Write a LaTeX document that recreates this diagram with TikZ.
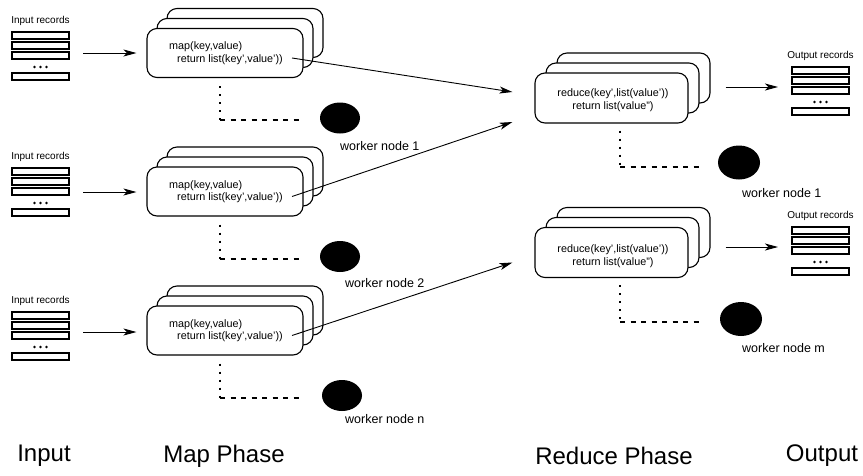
\documentclass[tikz,border=0pt]{standalone}
\usepackage{fontspec}
\setmainfont{Liberation Sans}
\usetikzlibrary{arrows.meta,shapes.geometric,calc}

\tikzset{
  box/.style={draw, rounded corners=10pt, fill=white, line width=1.1pt, inner sep=0pt},
  mapbox/.style={box, minimum width=156pt, minimum height=49pt},
  redbox/.style={box, minimum width=153pt, minimum height=50pt},
  rec/.style={draw, line width=1.1pt, minimum width=57pt, minimum height=7pt, inner sep=0pt},
  small/.style={font=\fontsize{10}{12}\selectfont, inner sep=0pt},
  code/.style={font=\fontsize{10.8}{12.5}\selectfont, inner sep=0pt},
  rcode/.style={font=\fontsize{10.8}{13.5}\selectfont, inner sep=0pt, align=center},
  worker/.style={ellipse, fill=black, inner sep=0pt},
  mworker/.style={worker, minimum width=40pt, minimum height=31pt},
  rworker/.style={worker, minimum width=42pt, minimum height=34pt},
  wlabel/.style={font=\fontsize{12.5}{15}\selectfont, inner sep=0pt, anchor=west},
  phase/.style={font=\fontsize{24}{28}\selectfont, inner sep=0pt},
  arr/.style={-{Stealth[length=13pt,width=7pt,inset=3.5pt]}, line width=0.9pt},
  dotv/.style={line width=2pt, dash pattern=on 2pt off 6pt},
  dashh/.style={line width=2pt, dash pattern=on 5pt off 5.5pt},
  % a stack of record slots with a caption above it
  records/.pic={
    \node[small] (-lab) at (0,-11) {#1};
    \node[rec] (-r1) at (0,3.5) {};
    \node[rec] (-r2) at (0,13.5) {};
    \node[rec] (-r3) at (0,23.5) {};
    \fill (-6,35) circle (1.3pt) (0,35) circle (1.3pt) (6,35) circle (1.3pt);
    \node[rec] (-r4) at (0,44.5) {};
  }
}

\begin{document}
\begin{tikzpicture}[x=1pt,y=-1pt]
\fill[white] (0,0) rectangle (863,475);
\useasboundingbox (0,0) rectangle (863,475);

% ---------------- input record stacks ----------------
\pic (in1) at (40.5,32) {records=Input records};
\pic (in2) at (40.5,168) {records=Input records};
\pic (in3) at (40.5,312) {records=Input records};

% ---------------- map tasks (three stacked boxes each) ----------------
\node[mapbox] (mb1) at (245,33) {};
\node[mapbox] (mm1) at (235,43) {};
\node[mapbox] (mf1) at (225,53) {};
\node[code, anchor=west, align=left] (mt1) at (169,53) {map(key,value)\\\hspace*{8pt}return list(key',value'))};

\node[mapbox] (mb2) at (245,171.5) {};
\node[mapbox] (mm2) at (235,181.5) {};
\node[mapbox] (mf2) at (225,191.5) {};
\node[code, anchor=west, align=left] (mt2) at (169,191.5) {map(key,value)\\\hspace*{8pt}return list(key',value'))};

\node[mapbox] (mb3) at (245,310.5) {};
\node[mapbox] (mm3) at (235,320.5) {};
\node[mapbox] (mf3) at (225,330.5) {};
\node[code, anchor=west, align=left] (mt3) at (169,330.5) {map(key,value)\\\hspace*{8pt}return list(key',value'))};

% ---------------- map workers ----------------
\node[mworker] (w1) at (340,118) {};
\node[wlabel] (wl1) at (340,146) {worker node 1};
\node[mworker] (w2) at (340,256.5) {};
\node[wlabel] (wl2) at (345,283) {worker node 2};
\node[mworker] (w3) at (342,395.5) {};
\node[wlabel] (wl3) at (345,419) {worker node n};

\coordinate (k1) at (220,120);
\coordinate (k2) at (220,258.5);
\coordinate (k3) at (220,397.5);
\foreach \g in {1,2,3}{
  \draw[dotv] ([shift={(-5pt,-8pt)}]mf\g.south) -- (k\g);
  \draw[dashh, shorten >=18pt] (k\g) -- (k\g -| w\g.west);
}

% input -> map arrows
\coordinate (ia1) at (83,53);
\coordinate (ia2) at (83,192);
\coordinate (ia3) at (83,332);
\foreach \g in {1,2,3}{
  \draw[arr, shorten >=10pt] (ia\g) -- (ia\g -| mf\g.west);
}

% ---------------- reduce tasks ----------------
\node[redbox] (rb1) at (633.5,78) {};
\node[redbox] (rm1) at (622.5,88) {};
\node[redbox] (rf1) at (611.5,98) {};
\node[rcode] (rt1) at (613,100) {reduce(key',list(value'))\\return list(value'')};

\node[redbox] (rb2) at (633.5,232.5) {};
\node[redbox] (rm2) at (622.5,242.5) {};
\node[redbox] (rf2) at (611.5,252.5) {};
\node[rcode] (rt2) at (613,256) {reduce(key',list(value'))\\return list(value'')};

% map -> reduce arrows
\draw[arr] ([shift={(9pt,-5pt)}]mt1.east) -- ([shift={(-22pt,6pt)}]rf1.west);
\draw[arr] ([shift={(9pt,-5pt)}]mt2.east) -- ([shift={(-22pt,-24pt)}]rf1.west);
\draw[arr] ([shift={(9pt,-5pt)}]mt3.east) -- ([shift={(-22pt,-10pt)}]rf2.west);

% ---------------- reduce workers ----------------
\node[rworker] (rw1) at (739,162.5) {};
\node[wlabel] (rwl1) at (742,193) {worker node 1};
\node[rworker] (rw2) at (741,319) {};
\node[wlabel] (rwl2) at (742,348) {worker node m};

\coordinate (rk1) at (620,167);
\coordinate (rk2) at (620,322);
\foreach \g in {1,2}{
  \draw[dotv] ([shift={(8.5pt,-7pt)}]rf\g.south) -- (rk\g);
  \draw[dashh, shorten >=17pt] (rk\g) -- (rk\g -| rw\g.west);
}

% ---------------- output record stacks ----------------
\pic (out1) at (820.5,67) {records=Output records};
\pic (out2) at (820.5,227) {records=Output records};

\coordinate (oa1) at (778,87);
\coordinate (oa2) at (778,247);
\foreach \g in {1,2}{
  \draw[arr, shorten <=37pt] (rf\g.east |- oa\g) -- (oa\g);
}

% ---------------- phase captions ----------------
\node[phase] (pin) at (44,456) {Input};
\node[phase] (pmap) at (224,456) {Map Phase};
\node[phase] (pred) at (614,456) {Reduce Phase};
\node[phase] (pout) at (822,456) {Output};
\end{tikzpicture}
\end{document}
